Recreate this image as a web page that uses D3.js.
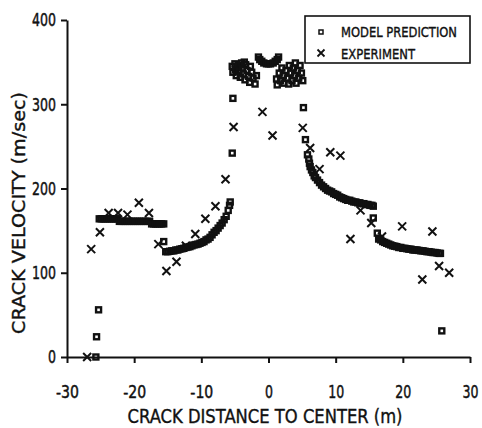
<!DOCTYPE html>
<html><head><meta charset="utf-8">
<script src="https://cdn.jsdelivr.net/npm/d3@7"></script>
<style>body{margin:0;background:#fff}svg{display:block}</style>
</head><body><svg id="c" width="482" height="428"></svg>
<script>
const xTicks=[-30,-20,-10,0,10,20,30];
const yTicks=[0,100,200,300,400];
const xTitle="CRACK DISTANCE TO CENTER (m)";
const yTitle="CRACK VELOCITY (m/sec)";
const legendLabels=["MODEL PREDICTION","EXPERIMENT"];

// Model prediction (squares)
const modelX=[
 -25.7,-25.6,-25.3,
 -25.2,-24.9,-24.6,-24.3,-24.0,-23.7,-23.4,-23.1,-22.8,-22.5,
 -22.2,-21.9,-21.6,-21.3,-21.0,-20.7,-20.4,-20.1,-19.8,-19.5,-19.2,-18.9,-18.6,-18.3,-18.0,-17.7,
 -17.4,-17.1,-16.8,-16.5,-16.2,-15.9,-15.6,
 -15.6,
 -15.3,-15.0,-14.7,-14.4,-14.1,-13.8,-13.5,-13.2,-12.9,-12.6,-12.3,-12.0,-11.7,-11.4,-11.1,-10.8,-10.5,-10.2,
 -9.9,-9.6,-9.3,-9.0,-8.7,-8.4,-8.1,-7.8,-7.5,-7.2,-6.9,-6.6,-6.3,-6.0,-5.8,-5.7,
 -5.4,-5.3,
 -5.4,-5.3,-5.0,-4.9,-4.8,-4.5,-4.4,-4.2,-4.0,-3.9,-3.7,-3.5,-3.4,-3.2,-3.0,-2.8,-2.7,-2.5,-2.3,-2.0,-1.8,-3.6,
 -1.5,-1.3,-1.0,-0.7,-0.3,0.0,0.3,0.7,1.0,1.3,1.5,
 1.2,1.3,1.6,1.8,2.0,2.2,2.3,2.6,2.8,3.0,3.1,3.3,3.5,3.7,3.9,4.1,4.3,4.5,4.7,4.9,5.1,4.0,
 5.2,5.5,5.8,
 6.0,6.1,6.2,6.4,6.6,6.8,7.0,7.3,7.6,7.9,8.2,8.5,8.8,9.1,9.4,9.7,10.0,10.3,10.6,10.9,11.2,11.5,11.8,12.1,12.4,12.7,13.0,13.3,13.6,13.9,14.2,14.5,14.8,15.1,15.4,15.6,
 15.6,16.2,
 16.4,16.7,17.0,17.3,17.6,17.9,18.2,18.5,18.8,19.1,19.4,19.7,20.0,20.3,20.6,20.9,21.2,21.5,21.8,22.1,22.4,22.7,23.0,23.3,23.6,23.9,24.2,24.5,24.8,25.1,25.4,25.6,
 25.8
];
const modelY=[
 0,24,56,
 164,164,164,164,164,164,164,164,164,164,
 161,161,161,161,161,161,161,161,161,161,161,161,161,161,161,161,
 158,158,158,158,158,158,158,
 137,
 125,125,125.5,126,126,127,127,128,128.5,129,130,130.5,131,132,133,133.5,134,135,
 136,137,139,140,142,145,148,150,153,156,159,163,167,174,180,184,
 242,307,
 345,338,348,341,334,346,339,332,349,343,336,329,347,340,333,326,345,338,331,324,334,350,
 356,353,351,349,348,348,348,349,351,353,356,
 330,323,337,328,343,334,325,340,331,324,346,337,328,343,334,325,340,331,346,337,328,349,
 296,258,240,
 235,230,226,222,219,215,213,210,207,204,202,200,198,197,196,194,193,192,190,189,188,187,186,186,185,184,184,183,183,182,182,181,181,180,180,179,
 165,147,
 140,139,137,136,135,134,133,132,131.5,131,130,130,129,129,128.5,128,128,127,127,127,126.5,126,126,125.5,125,125,124.5,124,124,123.5,123,123,
 31
];

// Experiment (crosses)
const expX=[-27,-26.4,-25.1,-23.8,-22.4,-21,-19.3,-17.8,-16.4,-15.2,-13.7,-12.3,-10.9,-9.4,-7.9,-6.4,-5.2,
 -0.9,0.6,5.1,6.2,7.6,9.2,10.7,12.2,13.7,15.3,16.9,19.9,22.9,24.4,25.4,26.9];
const expY=[0,128,148,171,171,169,183,171,134,102,113,132,146,164,179,211,273,
 291,263,272,248,223,243,239,140,174,159,143,155,92,149,108,100];

const ink="#111";
const font="'DejaVu Sans', sans-serif";
const svg=d3.select("#c");
svg.append("rect").attr("width",482).attr("height",428).attr("fill","#fff");

const x=d3.scaleLinear().domain([-30,30]).range([67,470]);
const y=d3.scaleLinear().domain([0,400]).range([357,20]);

function styleAxis(g){
  g.select(".domain").attr("stroke",ink).attr("stroke-width",2);
  g.selectAll(".tick line").attr("stroke",ink).attr("stroke-width",2);
  g.selectAll(".tick text").attr("fill",ink).attr("font-family",font).attr("font-size",18)
   .attr("stroke",ink).attr("stroke-width",0.5)
   .attr("textLength",d=>String(d).replace("-","").length*8+(d<0?7:0))
   .attr("lengthAdjust","spacingAndGlyphs");
}
const gx=svg.append("g").attr("transform",`translate(0,${y(0)})`)
  .call(d3.axisBottom(x).tickValues(xTicks).tickSize(6).tickSizeOuter(0).tickPadding(22).tickFormat(d3.format("d")));
styleAxis(gx);
gx.selectAll(".tick text").text(d=>d<0?"-"+Math.abs(d):String(d));
const gy=svg.append("g").attr("transform",`translate(${x(-30)},0)`)
  .call(d3.axisLeft(y).tickValues(yTicks).tickSize(6).tickSizeOuter(0).tickPadding(5).tickFormat(d3.format("d")));
styleAxis(gy);

// titles
svg.append("text").attr("x",265).attr("y",423).attr("text-anchor","middle")
  .attr("font-family",font).attr("font-size",19).attr("fill",ink).attr("stroke",ink).attr("stroke-width",0.4)
  .attr("textLength",275).attr("lengthAdjust","spacingAndGlyphs").text(xTitle);
svg.append("text").attr("transform","translate(25,213) rotate(-90)").attr("text-anchor","middle")
  .attr("font-family",font).attr("font-size",18).attr("fill",ink).attr("stroke",ink).attr("stroke-width",0.4)
  .attr("textLength",242).attr("lengthAdjust","spacingAndGlyphs").text(yTitle);

// markers
function square(g,cx,cy,s,sw){
  g.append("rect").attr("x",cx-s/2).attr("y",cy-s/2).attr("width",s).attr("height",s)
   .attr("fill","none").attr("stroke",ink).attr("stroke-width",sw);
}
function cross(g,cx,cy,h,sw){
  g.append("path").attr("d",`M${cx-h},${cy-h}L${cx+h},${cy+h}M${cx-h},${cy+h}L${cx+h},${cy-h}`)
   .attr("stroke",ink).attr("stroke-width",sw).attr("fill","none");
}
const gm=svg.append("g");
modelX.forEach((v,i)=>square(gm,x(v),y(modelY[i]),5,2.4));
const ge=svg.append("g");
expX.forEach((v,i)=>cross(ge,x(v),y(expY[i]),4,2));

// legend
const lg=svg.append("g");
lg.append("rect").attr("x",305).attr("y",16).attr("width",165).attr("height",47)
  .attr("fill","#fff").attr("stroke",ink).attr("stroke-width",1.6);
square(lg,321,32,4,1.5);
cross(lg,321,53,3.5,1.8);
const lens=[116,74];
legendLabels.forEach((t,i)=>{
  lg.append("text").attr("x",341).attr("y",i?59:37).attr("font-family",font).attr("font-size",14)
   .attr("fill",ink).attr("stroke",ink).attr("stroke-width",0.4)
   .attr("textLength",lens[i]).attr("lengthAdjust","spacingAndGlyphs").text(t);
});
</script></body></html>
